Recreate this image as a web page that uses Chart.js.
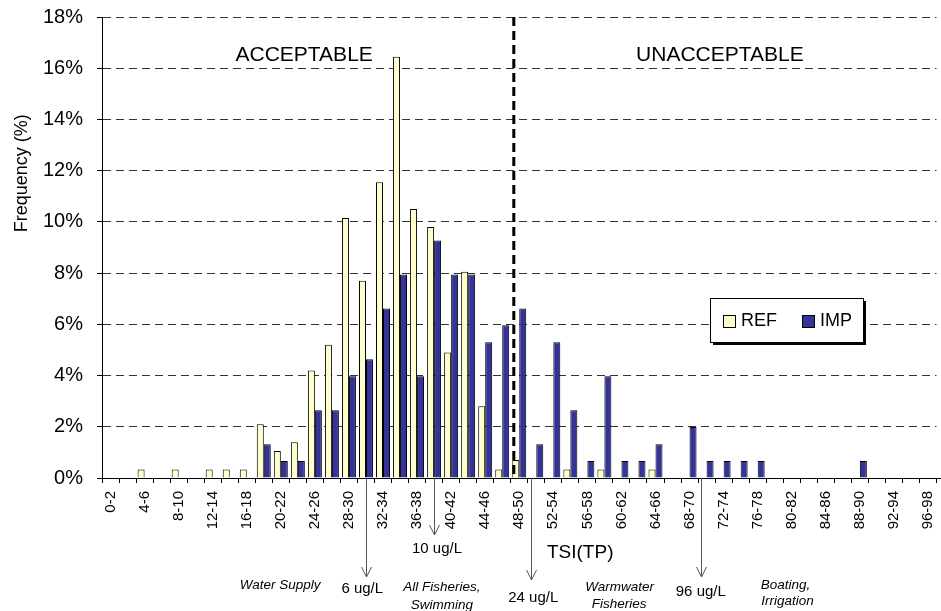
<!DOCTYPE html>
<html>
<head>
<meta charset="utf-8">
<script src="https://cdn.jsdelivr.net/npm/chart.js@4.4.1/dist/chart.umd.min.js"></script>
<style>
  body { margin: 0; background: #fff; }
  #wrap { width: 941px; height: 611px; }
</style>
</head>
<body>
<div id="wrap"><canvas id="tsiChart" width="941" height="611"></canvas></div>
<script>
const FONT = "'Liberation Sans', Arial, sans-serif";

// TSI(TP) classes, 2 units wide
const categories = [
    '0-2', '2-4', '4-6', '6-8', '8-10', '10-12', '12-14', '14-16', '16-18', '18-20',
    '20-22', '22-24', '24-26', '26-28', '28-30', '30-32', '32-34', '34-36', '36-38', '38-40',
    '40-42', '42-44', '44-46', '46-48', '48-50', '50-52', '52-54', '54-56', '56-58', '58-60',
    '60-62', '62-64', '64-66', '66-68', '68-70', '70-72', '72-74', '74-76', '76-78', '78-80',
    '80-82', '82-84', '84-86', '86-88', '88-90', '90-92', '92-94', '94-96', '96-98'
];

// frequency in %
const refValues = [
    0, 0, 0.33, 0, 0.33, 0, 0.33, 0.33, 0.33, 2.1,
    1.05, 1.4, 4.2, 5.2, 10.15, 7.7, 11.55, 16.45, 10.5, 9.8,
    4.9, 8.05, 2.8, 0.33, 0.7, 0, 0, 0.33, 0, 0.33,
    0, 0, 0.33, 0, 0, 0, 0, 0, 0, 0,
    0, 0, 0, 0, 0, 0, 0, 0, 0
];
const impValues = [
    0, 0, 0, 0, 0, 0, 0, 0, 0, 1.32,
    0.66, 0.66, 2.65, 2.65, 3.97, 4.64, 6.62, 7.95, 3.97, 9.27,
    7.95, 7.95, 5.3, 5.96, 6.62, 1.32, 5.3, 2.65, 0.66, 3.97,
    0.66, 0.66, 1.32, 0, 1.99, 0.66, 0.66, 0.66, 0.66, 0,
    0, 0, 0, 0, 0.66, 0, 0, 0, 0
];

const yTicks = [0, 2, 4, 6, 8, 10, 12, 14, 16, 18];

// annotations (x in category index units, drop = px below the axis)
const dividerIndex = 23.68;
const regionLabels = [
    { text: 'ACCEPTABLE', idx: 11.37, val: 16.5 },
    { text: 'UNACCEPTABLE', idx: 35.78, val: 16.5 }
];
const arrows = [
    { idx: 15.0, drop: 99 },
    { idx: 19.0, drop: 57 },
    { idx: 24.7, drop: 102 },
    { idx: 34.7, drop: 99 }
];
const notes = [
    { text: '10 ug/L', idx: 19.17, dy: 71, italic: false },
    { text: '6 ug/L', idx: 14.78, dy: 111, italic: false },
    { text: '24 ug/L', idx: 24.82, dy: 120, italic: false },
    { text: '96 ug/L', idx: 34.66, dy: 114, italic: false },
    { text: 'Water Supply', idx: 9.96, dy: 107, italic: true },
    { text: 'All Fisheries,', idx: 19.46, dy: 109, italic: true },
    { text: 'Swimming', idx: 19.46, dy: 127, italic: true },
    { text: 'Warmwater', idx: 29.9, dy: 109, italic: true },
    { text: 'Fisheries', idx: 29.87, dy: 126, italic: true },
    { text: 'Boating,', idx: 39.63, dy: 107, italic: true },
    { text: 'Irrigation', idx: 39.75, dy: 123, italic: true }
];

const overlays = {
    id: 'overlays',
    afterDatasetsDraw(chart) {
        const ctx = chart.ctx;
        const x = chart.scales.x, y = chart.scales.y;
        const area = chart.chartArea;
        ctx.save();

        // acceptable / unacceptable divider
        const dx = x.getPixelForValue(dividerIndex);
        ctx.strokeStyle = '#000';
        ctx.lineWidth = 3;
        ctx.setLineDash([9, 5]);
        ctx.beginPath();
        ctx.moveTo(dx, area.top);
        ctx.lineTo(dx, area.bottom);
        ctx.stroke();
        ctx.setLineDash([]);

        ctx.fillStyle = '#000';
        ctx.textAlign = 'center';
        ctx.textBaseline = 'middle';
        ctx.font = '21px ' + FONT;
        regionLabels.forEach(r => {
            ctx.fillText(r.text, x.getPixelForValue(r.idx), y.getPixelForValue(r.val));
        });

        // legend box
        const lx = Math.round(x.getPixelForValue(35.18));
        const ly = Math.round(y.getPixelForValue(7.03));
        const lw = 153, lh = 44;
        ctx.fillStyle = '#000';
        ctx.fillRect(lx + 3, ly + 3, lw, lh);
        ctx.fillStyle = '#fff';
        ctx.fillRect(lx, ly, lw, lh);
        ctx.strokeStyle = '#000';
        ctx.lineWidth = 1;
        ctx.strokeRect(lx + 0.5, ly + 0.5, lw, lh);

        const items = [[chart.data.datasets[0], 13], [chart.data.datasets[1], 92]];
        ctx.font = '18px ' + FONT;
        ctx.textAlign = 'left';
        items.forEach(([ds, off]) => {
            ctx.fillStyle = ds.backgroundColor;
            ctx.fillRect(lx + off, ly + 17, 12, 12);
            ctx.strokeStyle = '#000';
            ctx.strokeRect(lx + off + 0.5, ly + 17.5, 12, 12);
            ctx.fillStyle = '#000';
            ctx.fillText(ds.label, lx + off + 18, ly + 23);
        });
        ctx.restore();
    },
    afterDraw(chart) {
        const ctx = chart.ctx;
        const x = chart.scales.x, y = chart.scales.y;
        const base = chart.chartArea.bottom;
        ctx.save();

        // axis line runs on to the right edge
        ctx.strokeStyle = '#000';
        ctx.lineWidth = 1;
        ctx.beginPath();
        ctx.moveTo(chart.chartArea.right, base + 0.5);
        ctx.lineTo(chart.width, base + 0.5);
        ctx.stroke();

        // arrows below the axis
        ctx.strokeStyle = '#555';
        arrows.forEach(a => {
            const ax = Math.round(x.getPixelForValue(a.idx)) + 0.5;
            const tip = base + a.drop;
            ctx.beginPath();
            ctx.moveTo(ax, base);
            ctx.lineTo(ax, tip);
            ctx.moveTo(ax - 5, tip - 10);
            ctx.lineTo(ax, tip);
            ctx.lineTo(ax + 5, tip - 10);
            ctx.stroke();
        });

        ctx.fillStyle = '#000';
        ctx.textAlign = 'center';
        ctx.textBaseline = 'middle';
        notes.forEach(n => {
            ctx.font = n.italic ? 'italic 13.5px ' + FONT : '15px ' + FONT;
            ctx.fillText(n.text, x.getPixelForValue(n.idx), base + n.dy);
        });

        ctx.font = '19px ' + FONT;
        ctx.fillText('TSI(TP)', x.getPixelForValue(27.58), base + 75);

        // y axis title
        ctx.translate(22.5, y.getPixelForValue(11.9));
        ctx.rotate(-Math.PI / 2);
        ctx.font = '18px ' + FONT;
        ctx.fillText('Frequency (%)', 0, 0);
        ctx.restore();
    }
};

new Chart(document.getElementById('tsiChart'), {
    type: 'bar',
    data: {
        labels: categories,
        datasets: [
            {
                label: 'REF',
                data: refValues,
                backgroundColor: '#FFFFCC',
                borderColor: '#000',
                borderWidth: 1,
                categoryPercentage: 0.82,
                barPercentage: 1.0
            },
            {
                label: 'IMP',
                data: impValues,
                backgroundColor: '#333399',
                borderColor: '#000',
                borderWidth: 1,
                categoryPercentage: 0.82,
                barPercentage: 1.0
            }
        ]
    },
    options: {
        responsive: false,
        animation: false,
        layout: { padding: { top: 17, right: 4.5, left: 0, bottom: 0 } },
        plugins: {
            legend: { display: false },
            tooltip: { enabled: false }
        },
        scales: {
            x: {
                grid: { drawOnChartArea: false, offset: true, tickLength: 5, color: '#000' },
                border: { color: '#000', width: 1 },
                ticks: {
                    autoSkip: false,
                    maxRotation: 90,
                    minRotation: 90,
                    padding: 8,
                    color: '#000',
                    font: { family: FONT, size: 15 },
                    callback: (v, i) => (i % 2 === 0 ? categories[i] : '')
                },
                afterFit: s => {
                    s.height = 133;
                    s.paddingLeft = 0;
                    s.paddingRight = 0;
                }
            },
            y: {
                min: yTicks[0],
                max: yTicks[yTicks.length - 1],
                afterBuildTicks: s => { s.ticks = yTicks.map(v => ({ value: v })); },
                ticks: {
                    padding: 14,
                    color: '#000',
                    font: { family: FONT, size: 20 },
                    callback: v => v + '%'
                },
                grid: { color: '#333', tickColor: '#000', tickLength: 5, lineWidth: 1 },
                border: { dash: [8, 5], color: '#000', width: 1 },
                afterFit: s => {
                    s.width = 102;
                    s.paddingTop = 0;
                    s.paddingBottom = 0;
                }
            }
        }
    },
    plugins: [overlays]
});
</script>
</body>
</html>
